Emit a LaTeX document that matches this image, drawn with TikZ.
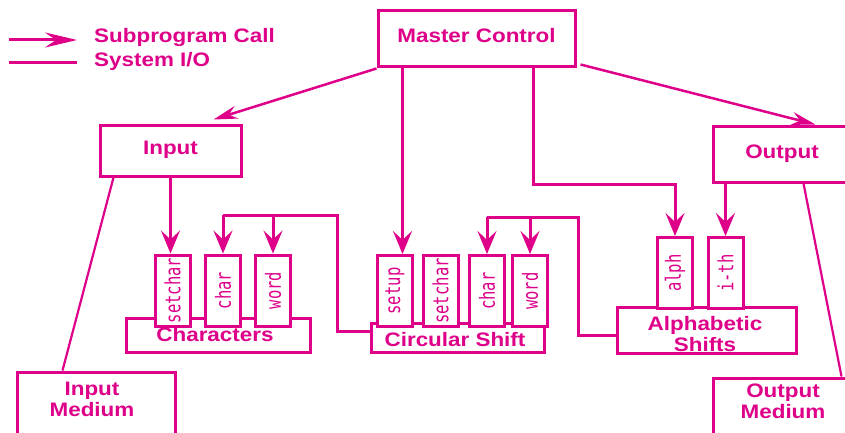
\documentclass[tikz,border=0pt]{standalone}
\usepackage{fontspec}
\newfontfamily\labfont[FakeStretch=1.15]{Liberation Sans}
\newfontfamily\subfont[FakeStretch=0.74]{DejaVu Sans Mono}
\usetikzlibrary{arrows.meta,calc}
\definecolor{mag}{RGB}{222,0,137}
\begin{document}
\begin{tikzpicture}[x=1pt,y=-1pt,
  every node/.style={text=mag},
  box/.style={draw=mag, line width=3pt, fill=white, inner sep=0pt,
    font=\labfont\bfseries\fontsize{19.5}{21}\selectfont, text height=14pt, text depth=6pt},
  grp/.style={draw=mag, line width=3pt, fill=white, inner sep=0pt},
  sub/.style={draw=mag, line width=3pt, fill=white, inner sep=0pt,
    minimum width=35pt, minimum height=71pt, font=\subfont\fontsize{21}{24}\selectfont},
  lab/.style={inner sep=0pt, align=center, font=\labfont\bfseries\fontsize{19.5}{21}\selectfont},
  call/.style={draw=mag, line width=3pt, -{Stealth[length=23pt,width=19pt,inset=9pt]}},
  dcall/.style={draw=mag, line width=2.5pt, -{Stealth[length=24pt,width=13pt,inset=8pt]}},
  legcall/.style={draw=mag, line width=3pt, -{Stealth[length=32pt,width=15pt,inset=11pt]}},
  io/.style={draw=mag, line width=3pt},
  sio/.style={draw=mag, line width=2.2pt},
]
\useasboundingbox (0,0) rectangle (845,433);

% legend
\coordinate (lg1a) at (9,40);
\coordinate (lg1b) at (77,40);
\draw[legcall] (lg1a) -- (lg1b);
\node[lab, anchor=base west] (lgt1) at (94,43) {Subprogram Call};
\coordinate (lg2a) at (9,63);
\coordinate (lg2b) at (77,63);
\draw[io] (lg2a) -- (lg2b);
\node[lab, anchor=base west] (lgt2) at (94,67) {System I/O};

% main boxes
\node[box, minimum width=197pt, minimum height=56pt] (mc) at (476.5,39) {Master Control};
\node[box, minimum width=141pt, minimum height=51pt] (inp) at (170.5,150.5) {Input};
\node[box, minimum width=138pt, minimum height=56pt] (out) at (782,154) {Output};
\node[grp, minimum width=158pt, minimum height=98pt] (inmed) at (96,421) {};
\node[lab] (inmedt) at (92,399.5) {Input\\Medium};
\node[grp, minimum width=157pt, minimum height=92pt] (outmed) at (791.5,424) {};
\node[lab] (outmedt) at (783,401) {Output\\Medium};

% module groups
\node[grp, minimum width=184pt, minimum height=34pt] (chars) at (218,335) {};
\node[grp, minimum width=173pt, minimum height=29pt] (circ) at (457.5,337.5) {};
\node[grp, minimum width=179pt, minimum height=46pt] (alpha) at (706.5,330) {};

\node[sub] (s1) at (172.5,290.5) {\rotatebox{90}{setchar}};
\node[sub] (c1) at (223,290.5) {\rotatebox{90}{char}};
\node[sub] (w1) at (273,290.5) {\rotatebox{90}{word}};

\node[sub] (setup) at (395,291) {\rotatebox{90}{setup}};
\node[sub] (s2) at (440.5,291) {\rotatebox{90}{setchar}};
\node[sub] (c2) at (487,291) {\rotatebox{90}{char}};
\node[sub] (w2) at (530,291) {\rotatebox{90}{word}};

\node[sub] (alph) at (675,273) {\rotatebox{90}{alph}};
\node[sub] (ith) at (725.5,273) {\rotatebox{90}{i-th}};

\node[lab, anchor=base] (charst) at (215,341) {Characters};
\node[lab, anchor=base] (circt) at (455,346) {Circular Shift};
\node[lab] (alphat) at (705,334) {Alphabetic\\Shifts};

% calls from master control
\draw[dcall] (mc.south west) -- ($(inp.north east)+(-29,-4)$);
\draw[dcall] ($(mc.south east)+(4,-4)$) -- ($(out.north west)+(104,0)$);
\coordinate (ms) at ($(mc.south west)+(26,0)$);
\draw[call] (ms) -- (ms |- setup.north);
\coordinate (ma) at ($(mc.south)+(56.5,0)$);
\coordinate (mb) at ($(alph.north)+(0,-52)$);
\draw[call] (ma) |- (mb) -- (alph.north);

% input / output calls
\draw[call] (inp.south) -- (inp.south |- s1.north);
\draw[call] (ith.north |- out.south) -- (ith.north);

% circular shift -> characters
\coordinate (cj) at (337,215);
\draw[io] ($(circ.north west)+(0,10)$) -| (cj) -- (cj -| c1.north);
\draw[call] (cj -| c1.north) -- (c1.north);
\draw[call] (cj -| w1.north) -- (w1.north);

% alphabetic shifts -> circular shift
\coordinate (aj) at (578,217);
\draw[io] ($(alpha.west)+(0,5)$) -| (aj) -- (aj -| c2.north);
\draw[call] (aj -| c2.north) -- (c2.north);
\draw[call] (aj -| w2.north) -- (w2.north);

% system I/O
\draw[sio] ($(inp.south west)+(15,0)$) -- ($(inmed.north west)+(47,0)$);
\draw[sio] ($(out.south west)+(92,0)$) -- ($(outmed.north west)+(130,0)$);
\end{tikzpicture}
\end{document}
